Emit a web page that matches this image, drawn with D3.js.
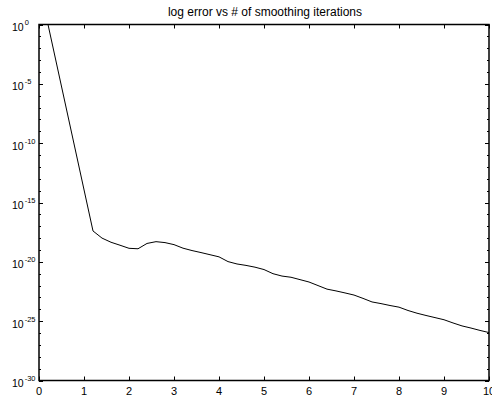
<!DOCTYPE html>
<html>
<head>
<meta charset="utf-8">
<script src="https://cdn.jsdelivr.net/npm/d3@7"></script>
<style>
  html, body { margin: 0; padding: 0; background: #fff; }
  svg { display: block; font-family: "Liberation Sans", Arial, Helvetica, sans-serif; }
</style>
</head>
<body>
<svg id="chart" width="492" height="398"></svg>
<script>
// ---- data ----
const titleText = "log error vs # of smoothing iterations";
const iterations = [0.2, 1.2, 1.4, 1.6, 1.8, 2.0, 2.2, 2.4, 2.6, 2.8, 3.0, 3.2, 3.4, 3.6, 3.8, 4.0,
  4.2, 4.4, 4.6, 4.8, 5.0, 5.2, 5.4, 5.6, 5.8, 6.0, 6.2, 6.4, 6.6, 6.8, 7.0,
  7.2, 7.4, 7.6, 7.8, 8.0, 8.2, 8.4, 8.6, 8.8, 9.0, 9.2, 9.4, 9.6, 9.8, 10.0];
const logError = [0, -17.4, -18.0, -18.35, -18.6, -18.86, -18.9, -18.45, -18.3, -18.38, -18.55, -18.85, -19.05, -19.22, -19.4, -19.58,
  -19.98, -20.18, -20.3, -20.45, -20.65, -21.0, -21.2, -21.3, -21.5, -21.7, -22.0, -22.3, -22.45, -22.62, -22.8,
  -23.08, -23.38, -23.52, -23.68, -23.82, -24.1, -24.33, -24.52, -24.7, -24.88, -25.15, -25.4, -25.58, -25.78, -25.96];
const errorValues = logError.map(e => Math.pow(10, e));
const xTicks = [0, 1, 2, 3, 4, 5, 6, 7, 8, 9, 10];
const yMajorExponents = [0, -5, -10, -15, -20, -25, -30];
const yMinorExponents = d3.range(0, -31, -1);

// ---- layout ----
const svg = d3.select("#chart");
const mLeft = 39, mRight = 489, mTop = 24.5, mBottom = 380.5;

const x = d3.scaleLinear().domain([0, 10]).range([mLeft, mRight]);
const y = d3.scaleLog().domain([1e-30, 1]).range([mBottom, mTop]);

// x ticks (bottom & top, inward)
const xt = svg.append("g");
xTicks.forEach(t => {
  const px = Math.round(x(t)) + 0.5;
  xt.append("line").attr("x1", px).attr("x2", px).attr("y1", mBottom).attr("y2", mBottom - 4).attr("stroke", "#000");
  xt.append("line").attr("x1", px).attr("x2", px).attr("y1", mTop).attr("y2", mTop + 4).attr("stroke", "#000");
  xt.append("text").attr("x", x(t)).attr("y", 395)
    .attr("text-anchor", "middle").attr("font-size", 11).text(t);
});

// y ticks
const yt = svg.append("g");
yMinorExponents.forEach(e => {
  const isMajor = e % 5 === 0;
  const len = isMajor ? 4 : 2;
  const py = Math.round(y(Math.pow(10, e))) + 0.5;
  yt.append("line").attr("x1", mLeft).attr("x2", mLeft + len).attr("y1", py).attr("y2", py).attr("stroke", "#000");
  yt.append("line").attr("x1", mRight).attr("x2", mRight - len).attr("y1", py).attr("y2", py).attr("stroke", "#000");
});
yMajorExponents.forEach(e => {
  const py = y(Math.pow(10, e));
  const t = yt.append("text").attr("x", mLeft - 27).attr("y", py + 6.5).attr("font-size", 10.5);
  t.append("tspan").text("10");
  t.append("tspan").attr("dy", -6).attr("font-size", 7.5).attr("dx", 1).text(e);
});

// line
const line = d3.line()
  .x((d, i) => x(iterations[i]))
  .y(d => y(d));
svg.append("path")
  .datum(errorValues)
  .attr("d", line)
  .attr("fill", "none").attr("stroke", "#000").attr("stroke-width", 1);

// frame
svg.append("rect")
  .attr("x", mLeft).attr("y", mTop)
  .attr("width", mRight - mLeft).attr("height", mBottom - mTop)
  .attr("fill", "none").attr("stroke", "#000").attr("stroke-width", 1.5);

// title
svg.append("text")
  .attr("x", (mLeft + mRight) / 2 + 1).attr("y", 16)
  .attr("text-anchor", "middle").attr("font-size", 12)
  .text(titleText);
</script>
</body>
</html>
